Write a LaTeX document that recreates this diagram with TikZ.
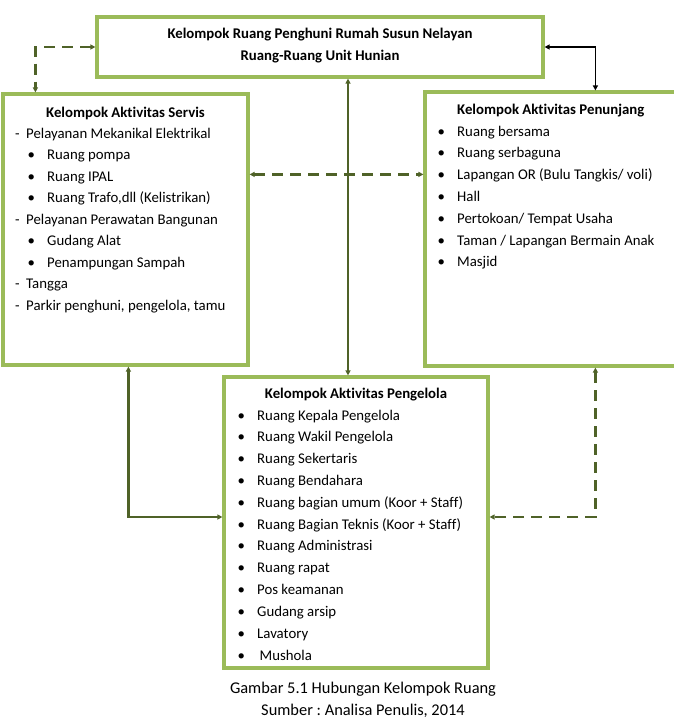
\documentclass[tikz,border=0pt]{standalone}
\usepackage{fontspec}
\setmainfont[Ligatures=NoCommon]{Carlito}
\usetikzlibrary{arrows.meta,calc}
\definecolor{boxgreen}{HTML}{9BBB59}
\definecolor{linegreen}{HTML}{4F6228}
\newcommand\dashitem{\makebox[11pt][l]{-}}
\newcommand\bulitem{\makebox[19.5pt][l]{\textbullet}}
\frenchspacing
\begin{document}
\begin{tikzpicture}[x=1pt,y=-1pt,
  box/.style={draw=boxgreen,line width=3.2pt,inner sep=0pt,fill=white},
  txt/.style={anchor=base west,inner sep=0pt,font=\fontsize{14.8}{17}\selectfont},
  ttl/.style={anchor=base,inner sep=0pt,font=\fontsize{14.8}{17}\selectfont\bfseries},
  ttlw/.style={anchor=base west,inner sep=0pt,font=\fontsize{14.8}{17}\selectfont\bfseries},
  captxt/.style={anchor=base,inner sep=0pt,font=\fontsize{16.4}{19}\selectfont},
  tip/.style={{Triangle[length=5pt,width=5pt]}-{Triangle[length=5pt,width=5pt]}},
  conn/.style={draw=linegreen,line width=2.2pt,tip},
  dconn/.style={conn,dash pattern=on 11pt off 7pt},
  bconn/.style={draw=black,line width=1.5pt,tip},
]
\useasboundingbox (0,0) rectangle (674,720);

% boxes
\node[box,minimum width=446pt,minimum height=60pt] (top) at (320,47) {};
\node[box,minimum width=245pt,minimum height=271pt] (servis) at (125.5,229.5) {};
\node[box,minimum width=252pt,minimum height=274pt] (penunjang) at (551,229) {};
\node[box,minimum width=264pt,minimum height=291pt] (pengelola) at (356,522.5) {};

% connectors
\draw[dconn] (top.west) -| ([xshift=34pt]servis.north west);
\draw[bconn] (top.east) -| ([xshift=172pt]penunjang.north west);
\draw[conn] ([xshift=28pt]top.south) -- ([xshift=28pt]top.south |- pengelola.north);
\draw[dconn] ([yshift=-82pt]servis.north east) -- ([yshift=-82pt]servis.north east -| penunjang.west);
\draw[conn] ([xshift=127pt]servis.south west) |- ([yshift=5.5pt]pengelola.west);
\draw[dconn] ([xshift=172pt]penunjang.south west) |- ([yshift=5.5pt]pengelola.east);

% top box text
\node[ttl] (t1) at (320,38) {Kelompok Ruang Penghuni Rumah Susun Nelayan};
\node[ttl] (t2) at (320,60) {Ruang-Ruang Unit Hunian};

% servis text
\node[ttl] (st) at (125.5,117) {Kelompok Aktivitas Servis};
\foreach \xx/\yy/\lbl [count=\i] in {
  15/133/{\dashitem Pelayanan Mekanikal Elektrikal},
  27.5/154.5/{\bulitem Ruang pompa},
  27.5/176/{\bulitem Ruang IPAL},
  27.5/197.5/{\bulitem Ruang Trafo,dll (Kelistrikan)},
  15/219/{\dashitem Pelayanan Perawatan Bangunan},
  27.5/240.5/{\bulitem Gudang Alat},
  27.5/262/{\bulitem Penampungan Sampah},
  15/283.5/{\dashitem Tangga},
  15/305/{\dashitem Parkir penghuni, pengelola, tamu}}
  \node[txt] (s\i) at (\xx,\yy+5) {\lbl};

% penunjang text
\node[ttlw] (pt) at (457,114) {Kelompok Aktivitas Penunjang};
\foreach \lbl [count=\i] in {Ruang bersama, Ruang serbaguna,
  Lapangan OR (Bulu Tangkis/ voli), Hall, Pertokoan/ Tempat Usaha,
  Taman / Lapangan Bermain Anak, Masjid}
  \node[txt] (p\i) at (437.5,131+21.8*\i-21.8+5) {\bulitem\lbl};

% pengelola text
\node[ttl] (gt) at (356,398) {Kelompok Aktivitas Pengelola};
\foreach \lbl [count=\i] in {Ruang Kepala Pengelola, Ruang Wakil Pengelola,
  Ruang Sekertaris, Ruang Bendahara, Ruang bagian umum (Koor + Staff),
  Ruang Bagian Teknis (Koor + Staff), Ruang Administrasi, Ruang rapat,
  Pos keamanan, Gudang arsip, Lavatory}
  \node[txt] (g\i) at (237.5,415+21.8*\i-21.8+5) {\bulitem\lbl};
\node[txt] (g12) at (237.5,655+5) {\makebox[22pt][l]{\textbullet}Mushola};

% caption
\node[captxt] (cap1) at (363,693) {Gambar 5.1 Hubungan Kelompok Ruang};
\node[captxt] (cap2) at (363,715) {Sumber : Analisa Penulis, 2014};
\end{tikzpicture}
\end{document}
